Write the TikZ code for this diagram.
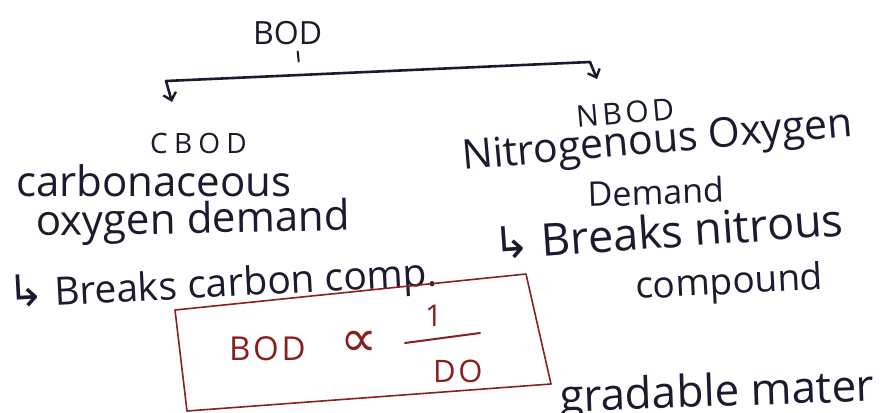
\documentclass[tikz,border=0pt]{standalone}
\usepackage{fontspec}
\setmainfont{Open Sans}
\newfontfamily\symfont{DejaVu Sans}
\usetikzlibrary{arrows.meta,calc}
\definecolor{ink}{HTML}{1B1B2F}
\definecolor{redink}{HTML}{8A1F1F}
\newcommand{\fs}[1]{\fontsize{#1}{#1}\selectfont}
\begin{document}
\begin{tikzpicture}[x=1pt,y=-1pt,
  hand/.style={text=ink, inner sep=0pt, anchor=base west},
  redhand/.style={text=redink, inner sep=0pt, anchor=base west},
  pen/.style={draw=ink, line width=2.6pt, line cap=round, line join=round},
  redpen/.style={draw=redink, line width=1.6pt, line join=round},
  barb/.style={-{Straight Barb[length=7pt,width=13pt,line width=2.4pt]}}]
\useasboundingbox[fill=white] (0,0) rectangle (890,412);

% root and the split to the two kinds
\node[hand, font=\fs{32}] (bod) at (253,45) {BOD};
\coordinate (tickA) at ($(bod.south)+(10,6)$);
\coordinate (tickB) at ($(bod.south)+(11,16)$);
\draw[pen, line width=2pt] (tickA) -- (tickB);
\coordinate (lc) at (166,81);
\coordinate (rc) at (590,62);
\coordinate (la) at (172,102);
\coordinate (ra) at (597,79);
\draw[pen, rounded corners=4pt] (lc) -- (rc);
\draw[pen, barb] (lc) -- (la);
\draw[pen, barb] (rc) -- (ra);

% carbonaceous branch
\node[hand, font=\fs{28}\addfontfeature{LetterSpace=22}] (cbod) at (150,153) {CBOD};
\node[hand, font=\fs{42}] (cname) at (16,196) {carbonaceous};
\node[hand, font=\fs{42}, rotate=1] (cname2) at (36,236) {oxygen demand};
\node[hand, font=\fs{39}, rotate=3] (cnote) at (8,308) {{\symfont\fs{44}↳} Breaks carbon comp.};

% nitrogenous branch
\node[hand, font=\fs{30}\addfontfeature{LetterSpace=12}, rotate=5] (nbod) at (577,128) {NBOD};
\node[hand, font=\fs{41}, rotate=5] (nname) at (463,170) {Nitrogenous Oxygen};
\node[hand, font=\fs{34}, rotate=2] (nname2) at (588,207) {Demand};
\node[hand, font=\fs{45}, rotate=4] (nnote) at (494,260) {{\symfont\fs{44}↳} Breaks nitrous};
\node[hand, font=\fs{37}, rotate=3] (nnote2) at (636,299) {compound};

% boxed relation
\coordinate (bxA) at (175,310);
\coordinate (bxB) at (526,274);
\coordinate (bxC) at (551,384);
\coordinate (bxD) at (187,411);
\draw[redpen] (bxA) -- (bxB) -- (bxC) -- (bxD) -- cycle;
\node[redhand, font=\fs{33}\addfontfeature{LetterSpace=8}] (rbod) at (229,360) {BOD};
\node[redhand, font=\symfont\fs{52}] (prop) at (340,356) {∝};
\node[redhand, font=\fs{30}] (one) at (425,326) {1};
\node[redhand, font=\fs{31}\addfontfeature{LetterSpace=8}] (do) at (433,382) {DO};
\coordinate (barL) at (405,343);
\coordinate (barR) at (480,333);
\draw[redpen, line width=2pt, line cap=round] (barL) -- (barR);

% text running off the page
\node[hand, font=\fs{44}, rotate=2] (tail) at (560,412) {gradable mater};
\end{tikzpicture}
\end{document}
